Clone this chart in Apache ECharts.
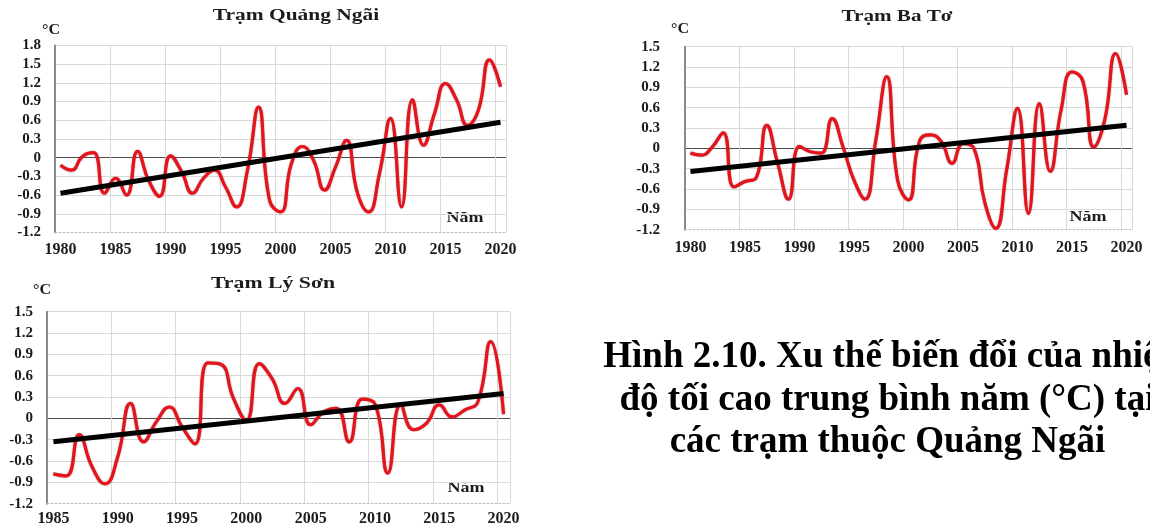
<!DOCTYPE html>
<html>
<head>
<meta charset="utf-8">
<script src="https://cdn.jsdelivr.net/npm/echarts@6/dist/echarts.min.js"></script>
<style>
  html, body { margin: 0; padding: 0; background: #fff; }
  #chart { width: 1150px; height: 532px; }
</style>
</head>
<body>
<div id="chart"></div>
<script>
// ---- data: annual mean maximum temperature anomaly (°C) ----
const yearsQuangNgai = ['1980','1981','1982','1983','1984','1985','1986','1987','1988','1989',
  '1990','1991','1992','1993','1994','1995','1996','1997','1998','1999',
  '2000','2001','2002','2003','2004','2005','2006','2007','2008','2009',
  '2010','2011','2012','2013','2014','2015','2016','2017','2018','2019','2020'];
const quangNgai = [-0.12, -0.20, 0.02, 0.08, -0.57, -0.33, -0.60, 0.10, -0.36, -0.62,
  0.03, -0.22, -0.57, -0.33, -0.20, -0.47, -0.79, -0.20, 0.81, -0.68,
  -0.87, -0.09, 0.18, -0.04, -0.52, -0.15, 0.28, -0.57, -0.87, -0.25,
  0.63, -0.79, 0.93, 0.20, 0.71, 1.19, 0.93, 0.52, 0.77, 1.57, 1.14];
const trendQuangNgai = [-0.57, 0.57];

const yearsBaTo = ['1980','1981','1982','1983','1984','1985','1986','1987','1988','1989',
  '1990','1991','1992','1993','1994','1995','1996','1997','1998','1999',
  '2000','2001','2002','2003','2004','2005','2006','2007','2008','2009',
  '2010','2011','2012','2013','2014','2015','2016','2017','2018','2019','2020'];
const baTo = [-0.07, -0.10, 0.02, 0.23, -0.57, -0.49, -0.44, 0.34, -0.22, -0.75,
  0.03, -0.05, -0.07, 0.44, 0.02, -0.47, -0.75, 0.12, 1.06, -0.47,
  -0.76, 0.10, 0.20, 0.10, -0.22, 0.07, 0.00, -0.80, -1.18, -0.32,
  0.59, -0.96, 0.66, -0.34, 0.57, 1.13, 0.99, 0.02, 0.42, 1.40, 0.79];
const trendBaTo = [-0.34, 0.34];

const yearsLySon = ['1985','1986','1987','1988','1989','1990','1991','1992','1993','1994',
  '1995','1996','1997','1998','1999','2000','2001','2002','2003','2004',
  '2005','2006','2007','2008','2009','2010','2011','2012','2013','2014',
  '2015','2016','2017','2018','2019','2020'];
const lySon = [-0.78, -0.81, -0.23, -0.68, -0.92, -0.54, 0.21, -0.33, -0.05, 0.16,
  -0.12, -0.36, 0.78, 0.76, 0.28, -0.03, 0.77, 0.56, 0.21, 0.42,
  -0.09, 0.09, 0.14, -0.33, 0.27, 0.20, -0.77, 0.19, -0.16, -0.07,
  0.19, 0.02, 0.12, 0.23, 1.08, 0.06];
const trendLySon = [-0.33, 0.35];

// value-axis ranges [min, max, step]
const yRangeQuangNgai = [-1.2, 1.8, 0.3];
const yRangeBaTo = [-1.2, 1.5, 0.3];
const yRangeLySon = [-1.2, 1.5, 0.3];

const panelTitles = ['Trạm Quảng Ngãi', 'Trạm Ba Tơ', 'Trạm Lý Sơn'];
const unitLabel = '°C';
const yearLabel = 'Năm';
const captionLines = [
  'Hình 2.10. Xu thế biến đổi của nhiệt',
  'độ tối cao trung bình năm (°C) tại',
  'các trạm thuộc Quảng Ngãi'
];

// ---- styling ----
const SERIF = '"Liberation Serif", "Times New Roman", serif';
const INK = '#1c1c1c';
const GRID_GREY = '#d9d9d9';

function fmt(v) { return String(Math.round(v * 10) / 10); }

// split-line colours: bottom line hidden (drawn as dashed axis), zero line dark
function splitColors(range) {
  const n = Math.round((range[1] - range[0]) / range[2]) + 1;
  const zeroIdx = Math.round((0 - range[0]) / range[2]);
  const arr = [];
  for (let i = 0; i < n; i++) {
    arr.push(i === 0 ? 'rgba(0,0,0,0)' : (i === zeroIdx ? '#4d4d4d' : GRID_GREY));
  }
  return arr;
}

function xAxisFor(gridIndex, years, margin) {
  return {
    type: 'category', gridIndex, data: years, boundaryGap: true,
    axisLine: { show: true, onZero: false, lineStyle: { color: '#bdbdbd', width: 1, type: [2, 2] } },
    axisTick: { show: false },
    axisLabel: { interval: 4, margin, color: INK, fontFamily: SERIF, fontWeight: 'bold', fontSize: 16 },
    splitLine: { show: true, interval: 4, lineStyle: { color: GRID_GREY, width: 1 } }
  };
}

function yAxisFor(gridIndex, range, margin) {
  return {
    type: 'value', gridIndex, min: range[0], max: range[1], interval: range[2],
    axisLine: { show: true, onZero: false, lineStyle: { color: '#8a8a8a', width: 2 } },
    axisTick: { show: false },
    axisLabel: { margin, color: INK, fontFamily: SERIF, fontWeight: 'bold', fontSize: 15, formatter: fmt },
    splitLine: { show: true, lineStyle: { color: splitColors(range), width: 1 } }
  };
}

function trendData(years, trend) {
  return years.map((_, i) => i === 0 ? trend[0] : (i === years.length - 1 ? trend[1] : null));
}

function seriesFor(idx, values, years, trend) {
  return [
    {
      type: 'line', xAxisIndex: idx, yAxisIndex: idx, data: values,
      smooth: 0.5, symbol: 'none', z: 3,
      lineStyle: { color: '#e5131c', width: 3.2, shadowColor: 'rgba(100,0,0,0.55)', shadowBlur: 1.5 }
    },
    {
      type: 'line', xAxisIndex: idx, yAxisIndex: idx, data: trendData(years, trend),
      connectNulls: true, symbol: 'none', z: 4,
      lineStyle: { color: '#000', width: 5 }
    }
  ];
}

function label(x, y, text, size, scaleX) {
  return {
    type: 'text', x, y, scaleX: scaleX || 1, silent: true,
    style: {
      text, fill: INK, font: 'bold ' + size + 'px ' + SERIF,
      align: 'center', verticalAlign: 'middle',
      textAlign: 'center', textVerticalAlign: 'middle'
    }
  };
}

const graphics = [
  label(296, 16, panelTitles[0], 16, 1.34),
  label(897, 17, panelTitles[1], 16, 1.32),
  label(273, 284, panelTitles[2], 16, 1.36),
  label(51, 30, unitLabel, 14, 1.15),
  label(680, 29, unitLabel, 14, 1.15),
  label(42, 290, unitLabel, 14, 1.15),
  label(465, 218, yearLabel, 15, 1.2),
  label(1088, 217, yearLabel, 15, 1.2),
  label(466, 488, yearLabel, 15, 1.2)
];
const captionMid = [357, 400, 442];
captionLines.forEach((t, i) => {
  graphics.push({
    type: 'text', x: 887.5, y: captionMid[i], silent: true,
    style: {
      text: t, fill: '#000', font: 'bold 37px ' + SERIF,
      align: 'center', verticalAlign: 'middle',
      textAlign: 'center', textVerticalAlign: 'middle'
    }
  });
});

const chart = echarts.init(document.getElementById('chart'), null, { renderer: 'canvas' });
chart.setOption({
  animation: false,
  backgroundColor: '#fff',
  grid: [
    { left: 55, top: 45.5, width: 451, height: 187 },
    { left: 685, top: 46.7, width: 447, height: 183 },
    { left: 47, top: 311.7, width: 463, height: 192 }
  ],
  xAxis: [
    xAxisFor(0, yearsQuangNgai, 9),
    xAxisFor(1, yearsBaTo, 10),
    xAxisFor(2, yearsLySon, 7)
  ],
  yAxis: [
    yAxisFor(0, yRangeQuangNgai, 14),
    yAxisFor(1, yRangeBaTo, 25),
    yAxisFor(2, yRangeLySon, 14)
  ],
  series: [
    ...seriesFor(0, quangNgai, yearsQuangNgai, trendQuangNgai),
    ...seriesFor(1, baTo, yearsBaTo, trendBaTo),
    ...seriesFor(2, lySon, yearsLySon, trendLySon)
  ],
  graphic: graphics
});
</script>
</body>
</html>
